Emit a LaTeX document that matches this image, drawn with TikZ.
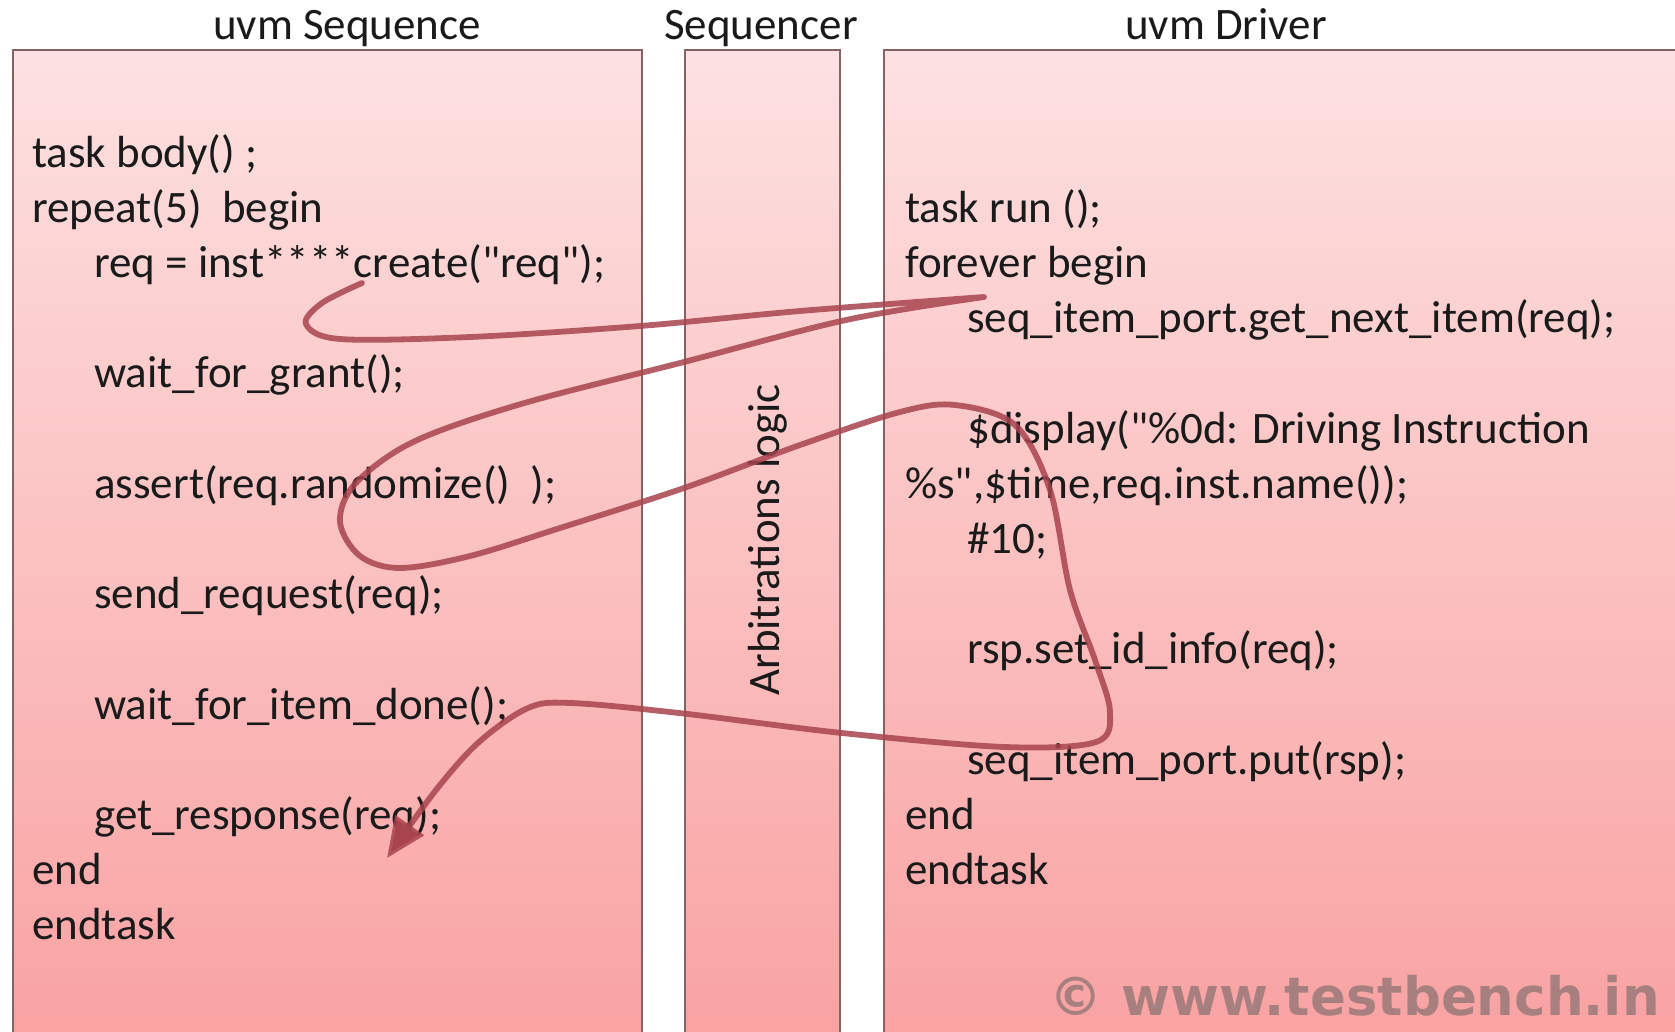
\documentclass[tikz,border=0pt]{standalone}
\usepackage{fontspec}
\setmainfont{Carlito}
\newfontfamily\codefont{Carlito}
\newfontfamily\wmfont{DejaVu Sans}
\usetikzlibrary{arrows.meta}
\definecolor{boxtop}{HTML}{FDE1E1}
\definecolor{boxbot}{HTML}{F9A2A2}
\definecolor{boxline}{HTML}{876262}
\definecolor{flowred}{HTML}{A8444E}
\definecolor{inkc}{HTML}{1A1A1A}
\definecolor{wmgray}{HTML}{857070}
\tikzset{
  lane/.style={top color=boxtop, bottom color=boxbot, draw=boxline, line width=1.6pt},
  code/.style={anchor=base west, inner sep=0pt, text=inkc, font=\codefont\fontsize{45}{54}\selectfont},
  title/.style={anchor=base, inner sep=0pt, text=inkc, font=\codefont\fontsize{45}{54}\selectfont},
  flow/.style={draw=flowred, draw opacity=0.85, line width=5.8pt, line join=round, line cap=round,
    -{Triangle[length=40pt, width=34pt]}},
}
\begin{document}
\begin{tikzpicture}[x=1pt, y=-1pt]
\useasboundingbox (0,0) rectangle (1675,1031);
\clip (0,0) rectangle (1675,1031);
\fill[white] (0,0) rectangle (1675,1031);

% three lanes
\path[lane] (13,50) rectangle (642,1040);
\path[lane] (685,50) rectangle (840,1040);
\path[lane] (884,50) rectangle (1700,1040);

% lane titles
\node[title] (tseq) at (347,39) {uvm Sequence};
\node[title] (tsqr) at (761,39) {Sequencer};
\node[title] (tdrv) at (1226,39) {uvm Driver};

% sequence body
\node[code] (l0)  at (32,167)    {task body() ;};
\node[code] (l1)  at (32,222.2)  {repeat(5)\ \ begin};
\node[code] (l2)  at (94,277.4)  {req = inst****create("req");};
\node[code] (l4)  at (94,387.8)  {wait\_for\_grant();};
\node[code] (l6)  at (94,498.2)  {assert(req.randomize()\ \ );};
\node[code] (l8)  at (94,608.6)  {send\_request(req);};
\node[code] (l10) at (94,719)    {wait\_for\_item\_done();};
\node[code] (l12) at (94,829.4)  {get\_response(req);};
\node[code] (l13) at (32,884.6)  {end};
\node[code] (l14) at (32,939.8)  {endtask};

% sequencer label
\node[inner sep=0pt, text=inkc, font=\codefont\fontsize{45}{54}\selectfont, rotate=90] (arb) at (768,540) {Arbitrations logic};

% driver body
\node[code] (d1)  at (905,222.2) {task run ();};
\node[code] (d2)  at (905,277.4) {forever begin};
\node[code] (d3)  at (967,332.6) {seq\_item\_port.get\_next\_item(req);};
\node[code] (d5)  at (967,443)   {\$display("\%0d: Driving Instruction};
\node[code] (d6)  at (905,498.2) {\%s",\$time,req.inst.name());};
\node[code] (d7)  at (967,553.4) {\#10;};
\node[code] (d9)  at (967,663.8) {rsp.set\_id\_info(req);};
\node[code] (d11) at (967,774.2) {seq\_item\_port.put(rsp);};
\node[code] (d12) at (905,829.4) {end};
\node[code] (d13) at (905,884.6) {endtask};

% watermark
\node[anchor=base east, inner sep=0pt, text=wmgray, text opacity=0.7,
      font=\wmfont\bfseries\fontsize{53}{58}\selectfont] (wm) at (1660,1015) {© www.testbench.in};

% request / response flow
\coordinate (fs) at (362,283);
\coordinate (ft) at (984,297);
\coordinate (fe) at (387,858);
\draw[flow] plot[smooth, tension=0.55] coordinates {(fs) (322,303) (306,324) (340,339) (470,337) (640,326) (800,311) (ft)}
  -- plot[smooth, tension=0.55] coordinates {(ft) (846,320) (684,362) (521,404) (413,442) (355,484) (340,522) (360,556) (400,568)
     (470,556) (560,528) (684,488) (800,445) (900,412) (955,405) (1015,425) (1050,490) (1070,590) (1095,660) (1110,712)
     (1096,742) (1005,747) (842,733) (679,713) (571,703) (528,708) (479,742) (436,790) (fe)};
\end{tikzpicture}
\end{document}
